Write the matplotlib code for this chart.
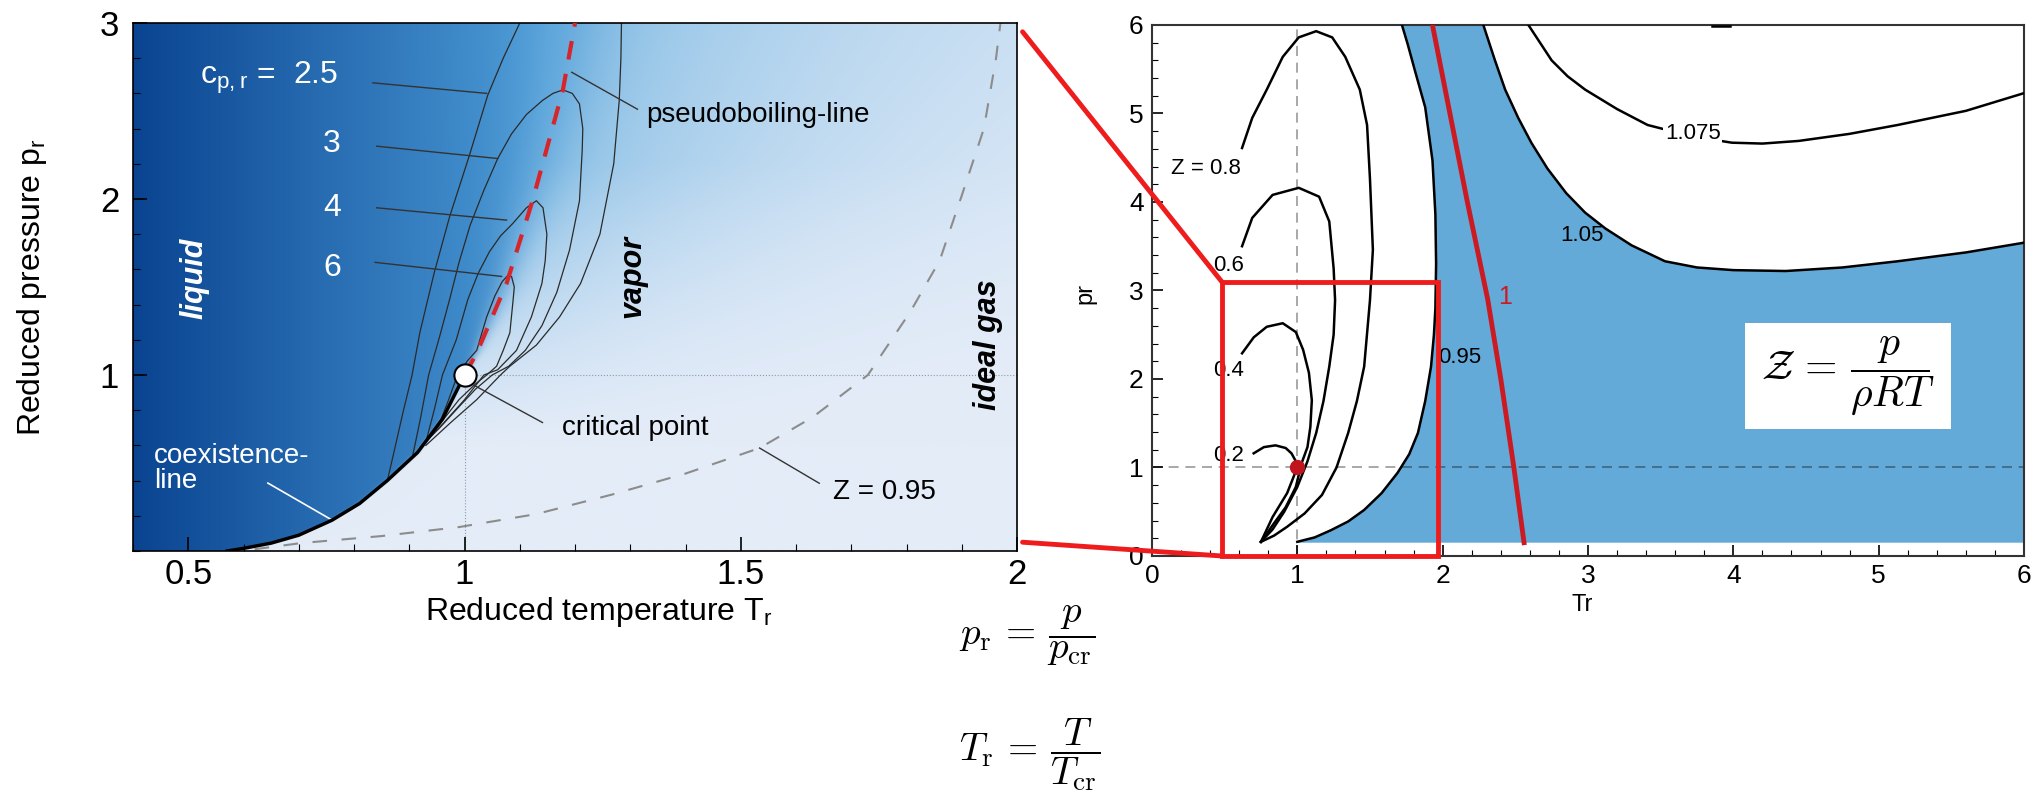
import numpy as np
import matplotlib.pyplot as plt
from matplotlib.patches import Rectangle, ConnectionPatch

plt.rcParams['font.family'] = ['Liberation Sans', 'DejaVu Sans']

# ---------------- left panel: reduced p-T diagram ----------------
coex_T = [0.57, 0.60, 0.65, 0.70, 0.76, 0.81, 0.86, 0.915, 0.96, 1.0]
coex_p = [0.0, 0.015, 0.045, 0.09, 0.175, 0.27, 0.40, 0.56, 0.75, 1.0]

pb_T = [1.0, 1.022, 1.076, 1.123, 1.178, 1.20]
pb_p = [1.0, 1.125, 1.52, 1.99, 2.62, 3.0]

z95_T = [0.62, 0.704, 0.85, 0.99, 1.13, 1.266, 1.40, 1.534, 1.63, 1.73, 1.807, 1.86, 1.90, 1.94, 1.962, 1.97]
z95_p = [0.01, 0.045, 0.085, 0.136, 0.21, 0.32, 0.44, 0.585, 0.76, 1.0, 1.36, 1.65, 2.02, 2.4, 2.8, 3.0]

# iso-lines of reduced heat capacity
cp25_liq_T = [0.861, 0.875, 0.888, 0.905, 0.919, 0.945, 0.973, 1.008, 1.042, 1.07, 1.10]
cp25_liq_p = [0.41, 0.6, 0.78, 1.0, 1.24, 1.58, 1.9, 2.24, 2.59, 2.8, 3.0]
cp25_vap_T = [1.284, 1.283, 1.28, 1.27, 1.245, 1.21, 1.172, 1.13, 1.082, 1.065, 1.022, 0.975, 0.93]
cp25_vap_p = [3.0, 2.8, 2.56, 2.2, 1.8, 1.52, 1.33, 1.17, 1.05, 1.0, 0.86, 0.73, 0.6]
cp3_T = [0.906, 0.92, 0.935, 0.955, 0.973, 0.99, 1.01, 1.035, 1.06, 1.085, 1.112, 1.141, 1.16, 1.178,
         1.195, 1.208, 1.214, 1.213, 1.208, 1.19, 1.167, 1.14, 1.11, 1.08, 1.05, 1.02, 0.99, 0.955, 0.92]
cp3_p = [0.54, 0.75, 1.0, 1.22, 1.43, 1.64, 1.85, 2.05, 2.23, 2.37, 2.48, 2.56, 2.60, 2.62,
         2.60, 2.54, 2.40, 2.28, 1.99, 1.71, 1.47, 1.28, 1.14, 1.05, 1.0, 0.92, 0.82, 0.70, 0.59]
cp4_T = [0.93, 0.945, 0.96, 0.985, 1.006, 1.025, 1.045, 1.065, 1.087, 1.112, 1.13, 1.142, 1.149,
         1.146, 1.14, 1.121, 1.094, 1.06, 1.035, 1.0, 0.96, 0.92]
cp4_p = [0.62, 0.8, 1.0, 1.2, 1.43, 1.58, 1.70, 1.79, 1.86, 1.95, 1.99, 1.95, 1.8,
         1.65, 1.52, 1.33, 1.14, 1.03, 1.0, 0.86, 0.72, 0.59]
cp6_T = [0.955, 0.97, 0.985, 1.005, 1.022, 1.04, 1.055, 1.068, 1.078, 1.085, 1.09, 1.088, 1.082,
         1.07, 1.058, 1.04, 1.02, 0.99, 0.955, 0.92]
cp6_p = [0.73, 0.85, 0.98, 1.08, 1.14, 1.33, 1.45, 1.53, 1.565, 1.56, 1.5, 1.43, 1.24,
         1.14, 1.05, 1.0, 0.95, 0.86, 0.72, 0.59]

cp_names = ["3", "4", "6"]
cp_label_p = [2.31, 1.95, 1.61]
cp_leader_T0 = [0.834, 0.841, 0.841, 0.838]
cp_leader_p0 = [2.66, 2.30, 1.95, 1.64]
cp_leader_T1 = [1.040, 1.060, 1.076, 1.067]
cp_leader_p1 = [2.60, 2.23, 1.88, 1.56]

# ---------------- right panel: compressibility factor ----------------
z02_T = [0.70, 0.77, 0.85, 0.92, 0.96, 0.99, 1.0, 0.93, 0.83, 0.75]
z02_p = [1.16, 1.23, 1.25, 1.22, 1.16, 1.07, 1.0, 0.71, 0.44, 0.16]
z04_T = [0.62, 0.70, 0.79, 0.90, 0.99, 1.04, 1.08, 1.10, 1.09, 1.07, 1.03, 0.99, 0.92, 0.84, 0.75]
z04_p = [2.29, 2.47, 2.59, 2.63, 2.53, 2.33, 2.07, 1.76, 1.46, 1.23, 1.05, 0.78, 0.55, 0.37, 0.16]
z06_T = [0.62, 0.69, 0.83, 1.01, 1.15, 1.22, 1.25, 1.26, 1.25, 1.22, 1.18, 1.13, 1.07, 1.0, 0.91, 0.83, 0.75]
z06_p = [3.50, 3.82, 4.08, 4.16, 4.06, 3.78, 3.25, 2.89, 2.50, 2.14, 1.75, 1.39, 1.07, 0.78, 0.50, 0.30, 0.16]
z08_T = [0.62, 0.69, 0.79, 0.90, 1.01, 1.13, 1.24, 1.33, 1.43, 1.48, 1.50, 1.52, 1.50, 1.46, 1.41,
         1.35, 1.27, 1.17, 1.05, 0.93, 0.84, 0.75]
z08_p = [4.61, 4.95, 5.27, 5.64, 5.86, 5.93, 5.86, 5.64, 5.27, 4.87, 4.26, 3.46, 2.89, 2.14, 1.75,
         1.39, 1.0, 0.69, 0.48, 0.33, 0.23, 0.16]
z095r_T = [1.0, 1.12, 1.23, 1.35, 1.46, 1.58, 1.69, 1.77, 1.83, 1.88, 1.92, 1.94, 1.95, 1.955, 1.95,
           1.93, 1.88, 1.81, 1.76, 1.72]
z095r_p = [0.16, 0.21, 0.29, 0.39, 0.52, 0.71, 0.94, 1.15, 1.39, 1.75, 2.14, 2.5, 2.8, 3.3, 3.86,
           4.47, 5.07, 5.48, 5.78, 6.0]
z1_T = [1.93, 2.05, 2.17, 2.31, 2.40, 2.49, 2.56]
z1_p = [6.0, 5.0, 4.0, 2.9, 2.0, 1.0, 0.15]
z105_T = [2.28, 2.36, 2.43, 2.52, 2.61, 2.72, 2.85, 2.98, 3.12, 3.30, 3.53, 3.75, 4.0, 4.36, 4.75,
          5.13, 5.6, 6.0]
z105_p = [6.0, 5.6, 5.27, 4.95, 4.67, 4.38, 4.1, 3.88, 3.70, 3.51, 3.33, 3.26, 3.23, 3.22, 3.26,
          3.33, 3.43, 3.54]
z1075_T = [2.59, 2.67, 2.75, 2.86, 2.98, 3.2, 3.41, 3.72, 3.99, 4.2, 4.45, 4.8, 5.13, 5.6, 6.0]
z1075_p = [6.0, 5.8, 5.6, 5.42, 5.27, 5.05, 4.87, 4.74, 4.67, 4.66, 4.69, 4.77, 4.87, 5.03, 5.23]
band_bottom = 0.15

z_names = ["Z = 0.8", "0.6", "0.4", "0.2"]
z_label_T = [0.37, 0.53, 0.53, 0.53]
z_label_p = [4.38, 3.28, 2.10, 1.14]

fig = plt.figure(figsize=(20.41, 8.01), dpi=100)
ax1 = fig.add_axes([0.0652, 0.3121, 0.4331, 0.6592])
ax2 = fig.add_axes([0.5644, 0.3059, 0.4273, 0.6629])

# background shading: dark liquid -> light vapour, sharp at the
# coexistence line, smeared out above the critical point
TT, PP = np.meshgrid(np.linspace(0.4, 2.0, 600), np.linspace(0, 3, 450))
t_edge = np.where(PP < 1, np.interp(PP, coex_p, coex_T), np.interp(PP, pb_p, pb_T))
s = TT - t_edge
w = 0.004 + 0.05 * np.clip(PP - 1, 0, None)
f = (0.5 * (1 + np.tanh(s / w)))[..., None]
dark = np.array([10, 68, 145]) / 255
mid = np.array([75, 155, 215]) / 255
far = np.array([228, 236, 248]) / 255
near_hi = np.array([140, 193, 230]) / 255
a = np.clip((TT - 0.4) / 0.75, 0, 1)[..., None]
liq = dark + (mid - dark) * a
k = np.clip((PP - 0.6) / 1.6, 0, 1)[..., None]
near = far + (near_hi - far) * k
L = (0.12 + 0.18 * PP)[..., None]
g = 1 - np.exp(-np.clip(s, 0, None)[..., None] / L)
vap = near + (far - near) * g
rgb = liq * (1 - f) + vap * f
ax1.imshow(rgb, extent=[0.4, 2.0, 0, 3], origin='lower', aspect='auto',
           interpolation='bilinear', zorder=0)

ax1.plot([1, 1], [0, 1], color='#8a9aaa', lw=0.8, ls=':', zorder=1)
ax1.plot([1, 2], [1, 1], color='#8a9aaa', lw=0.8, ls=':', zorder=1)

for T, p in [(cp25_liq_T, cp25_liq_p), (cp25_vap_T, cp25_vap_p),
             (cp3_T, cp3_p), (cp4_T, cp4_p), (cp6_T, cp6_p)]:
    ax1.plot(T, p, color='#2a2a2a', lw=0.9, zorder=2)

ax1.plot(z95_T, z95_p, color='#8c8c8c', lw=1.5, dashes=(7, 7), zorder=2)
ax1.plot(pb_T, pb_p, color='#d7262b', lw=3, dashes=(4.5, 3.5), zorder=3)
ax1.plot(coex_T, coex_p, color='black', lw=2.5, zorder=3)
ax1.plot(1, 1, 'o', ms=16, mfc='white', mec='black', mew=1.5, zorder=5)

for i in range(4):
    ax1.plot([cp_leader_T0[i], cp_leader_T1[i]], [cp_leader_p0[i], cp_leader_p1[i]],
             color='#333333', lw=1.0, zorder=2)
ax1.text(0.771, 2.69, r"c$_\mathregular{p,r}$ =  2.5", ha='right', va='center',
         color='white', fontsize=23)
for name, p in zip(cp_names, cp_label_p):
    ax1.text(0.776, p, name, ha='right', va='center', color='white', fontsize=23)

ax1.plot([1.194, 1.313], [2.72, 2.51], color='#333333', lw=1.0, zorder=2)
ax1.text(1.329, 2.48, "pseudoboiling-line", ha='left', va='center', fontsize=20)
ax1.plot([1.018, 1.141], [0.94, 0.73], color='#333333', lw=1.0, zorder=2)
ax1.text(1.176, 0.70, "critical point", ha='left', va='center', fontsize=20)
ax1.plot([1.534, 1.642], [0.585, 0.385], color='#333333', lw=1.0, zorder=2)
ax1.text(1.666, 0.335, "Z = 0.95", ha='left', va='center', fontsize=20)
ax1.plot([0.644, 0.76], [0.386, 0.176], color='white', lw=1.2, zorder=2)
ax1.text(0.438, 0.47, "coexistence-\nline", ha='left', va='center', color='white',
         fontsize=20, linespacing=0.95)

ax1.text(0.512, 1.55, "liquid", rotation=90, ha='center', va='center', color='white',
         fontsize=22, fontweight='bold', fontstyle='italic')
ax1.text(1.304, 1.56, "vapor", rotation=90, ha='center', va='center',
         fontsize=22, fontweight='bold', fontstyle='italic')
ax1.text(1.948, 1.17, "ideal gas", rotation=90, ha='center', va='center',
         fontsize=22, fontweight='bold', fontstyle='italic')

ax1.set_xlim(0.4, 2.0)
ax1.set_ylim(0, 3)
ax1.set_xticks([0.5, 1, 1.5, 2])
ax1.set_xticklabels(["0.5", "1", "1.5", "2"])
ax1.set_yticks([1, 2, 3])
ax1.set_yticklabels(["1", "2", "3"])
ax1.set_xticks(np.arange(0.4, 2.0, 0.1), minor=True)
ax1.set_yticks(np.arange(0, 3, 0.2), minor=True)
ax1.tick_params(which='both', direction='in', labelsize=25)
ax1.tick_params(which='major', length=10, width=1.2)
ax1.tick_params(which='minor', length=5, width=0.8)
ax1.tick_params(axis='x', pad=5)
ax1.tick_params(axis='y', pad=10)
ax1.set_xlabel(r"Reduced temperature T$_\mathregular{r}$", fontsize=23)
ax1.set_ylabel(r"Reduced pressure p$_\mathregular{r}$", fontsize=23)
ax1.xaxis.set_label_coords(0.527, -0.1155)
ax1.xaxis.label.set_va('center')
ax1.yaxis.set_label_coords(-0.114, 0.5)
ax1.yaxis.label.set_va('center')
for sp in ax1.spines.values():
    sp.set_linewidth(1.2)

# ---------------- right panel ----------------
band_T = np.concatenate([[z095r_T[0]], z095r_T, z105_T, [6.0]])
band_p = np.concatenate([[band_bottom], z095r_p, z105_p, [band_bottom]])
ax2.fill(band_T, band_p, color='#64aad8', lw=0, zorder=1)

ax2.axvline(1, color='black', alpha=0.4, lw=1.2, dashes=(6, 4), zorder=2)
ax2.axhline(1, color='black', alpha=0.4, lw=1.2, dashes=(6, 4), zorder=2)

for T, p in [(z02_T, z02_p), (z04_T, z04_p), (z06_T, z06_p), (z08_T, z08_p),
             (z095r_T, z095r_p), (z105_T, z105_p), (z1075_T, z1075_p)]:
    ax2.plot(T, p, color='black', lw=1.8, zorder=3)
ax2.plot([3.85, 3.98], [5.99, 5.99], color='black', lw=1.8, zorder=3)
ax2.plot(z1_T, z1_p, color='#cc1a22', lw=3.5, zorder=4)
ax2.plot(1, 1, 'o', ms=10, color='#c0141e', zorder=5)

for name, T, p in zip(z_names, z_label_T, z_label_p):
    ax2.text(T, p, name, ha='center', va='center', fontsize=16, zorder=6)
ax2.text(2.12, 2.24, "0.95", ha='center', va='center', fontsize=16, zorder=6)
ax2.text(2.96, 3.62, "1.05", ha='center', va='center', fontsize=16, zorder=6)
ax2.text(3.72, 4.77, "1.075", ha='center', va='center', fontsize=16, zorder=6,
         bbox=dict(facecolor='white', edgecolor='none', pad=1))
ax2.text(2.43, 2.93, "1", ha='center', va='center', fontsize=18, color='#cc1a22', zorder=6)

ax2.add_patch(Rectangle((4.08, 1.43), 1.42, 1.20, facecolor='white', edgecolor='none', zorder=6))
ax2.text(4.79, 2.03, r"$\mathcal{Z}\,=\,\dfrac{p}{\rho RT}$", ha='center', va='center',
         fontsize=30, math_fontfamily='cm', zorder=7)

ax2.add_patch(Rectangle((0.48, 0), 1.49, 3.1, fill=False, edgecolor='#ee1c1c', lw=3.5,
                        clip_on=False, zorder=8))

ax2.set_xlim(0, 6)
ax2.set_ylim(0, 6)
ax2.set_xticks(range(7))
ax2.set_yticks(range(7))
ax2.set_xticks(np.arange(0, 6, 0.2), minor=True)
ax2.set_yticks(np.arange(0, 6, 0.2), minor=True)
ax2.tick_params(which='both', direction='in', labelsize=19)
ax2.tick_params(which='major', length=8, width=1.2, pad=6)
ax2.tick_params(which='minor', length=4, width=0.8)
ax2.set_xlabel("Tr", fontsize=17)
ax2.set_ylabel("pr", fontsize=17)
ax2.xaxis.set_label_coords(0.493, -0.092)
ax2.xaxis.label.set_va('center')
ax2.yaxis.set_label_coords(-0.076, 0.495)
ax2.yaxis.label.set_va('center')
for sp in ax2.spines.values():
    sp.set_linewidth(1.5)
    sp.set_color('#333333')

# zoom connectors
for pa, pb in [((2.01, 2.95), (0.48, 3.1)), ((2.01, 0.05), (0.48, 0.0))]:
    con = ConnectionPatch(xyA=pa, coordsA=ax1.transData, xyB=pb, coordsB=ax2.transData,
                          color='#ee1c1c', lw=3.5, zorder=9)
    fig.add_artist(con)

# definitions below
fig.text(0.470, 0.206, r"$p_{\rm r}\,=\,\dfrac{p}{p_{\rm cr}}$", ha='left', va='center',
         fontsize=28, math_fontfamily='cm')
fig.text(0.470, 0.0574, r"$T_{\rm r}\,=\,\dfrac{T}{T_{\rm cr}}$", ha='left', va='center',
         fontsize=28, math_fontfamily='cm')

fig.savefig("out.png", dpi=100)
